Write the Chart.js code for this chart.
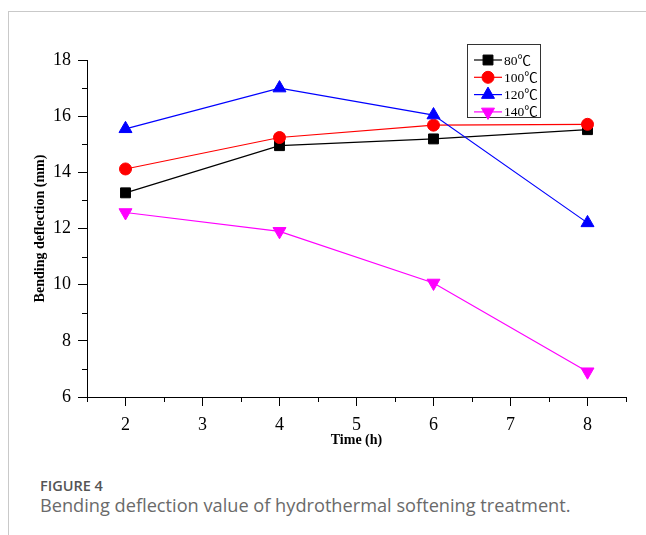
<!DOCTYPE html>
<html>
<head>
<meta charset="utf-8">
<script src="https://cdn.jsdelivr.net/npm/chart.js@4.4.0/dist/chart.umd.min.js"></script>
<style>
  body { margin: 0; background: #fff; width: 646px; height: 535px; overflow: hidden; position: relative; font-family: "Open Sans", sans-serif; }
  .frame { position: absolute; left: 8px; top: 11px; right: 0; bottom: 0; border-top: 1px solid #c9c9c9; border-left: 1px solid #c9c9c9; }
  #wrap { position: absolute; left: 0; top: 0; width: 646px; height: 460px; }
  .fig { position: absolute; left: 40px; top: 476px; font-size: 14.5px; font-weight: 600; color: #555; }
  .cap { position: absolute; left: 40px; top: 493px; font-size: 18.2px; color: #6a6a6a; }
</style>
</head>
<body>
<div class="frame"></div>
<div id="wrap"><canvas id="chart" width="646" height="460"></canvas></div>
<div class="fig">FIGURE 4</div>
<div class="cap">Bending deflection value of hydrothermal softening treatment.</div>
<script>
// treatment time (h)
const times = [2, 4, 6, 8];
// bending deflection (mm) per temperature
const temp80 = [13.27, 14.95, 15.19, 15.52];
const temp100 = [14.12, 15.24, 15.68, 15.71];
const temp120 = [15.55, 17.0, 16.04, 12.2];
const temp140 = [12.57, 11.9, 10.06, 6.9];
const seriesNames = ['80℃', '100℃', '120℃', '140℃'];

const xTicks = [2, 3, 4, 5, 6, 7, 8];
const yTicks = [6, 8, 10, 12, 14, 16, 18];
const xMinor = [1.5, 2.5, 3.5, 4.5, 5.5, 6.5, 7.5, 8.5];
const yMinor = [7, 9, 11, 13, 15, 17];

const serif = '"Liberation Serif", "Noto Sans CJK SC", serif';

function pts(vals) {
  return times.map((t, i) => ({ x: t, y: vals[i] }));
}

// small outward ticks between the labelled ones
const minorTicks = {
  id: 'minorTicks',
  afterDraw(chart) {
    const { ctx, chartArea: a, scales: { x, y } } = chart;
    ctx.save();
    ctx.strokeStyle = '#000';
    ctx.lineWidth = 1;
    ctx.beginPath();
    xMinor.forEach(v => {
      const px = Math.round(x.getPixelForValue(v)) + 0.5;
      ctx.moveTo(px, a.bottom);
      ctx.lineTo(px, a.bottom + 5);
    });
    yMinor.forEach(v => {
      const py = Math.round(y.getPixelForValue(v)) + 0.5;
      ctx.moveTo(a.left, py);
      ctx.lineTo(a.left - 5, py);
    });
    ctx.stroke();
    ctx.restore();
  }
};

// boxed legend inside the plot, top right
const boxLegend = {
  id: 'boxLegend',
  afterDraw(chart) {
    const ctx = chart.ctx;
    const left = 467, top = 44, w = 73, h = 73;
    ctx.save();
    ctx.strokeStyle = '#333';
    ctx.lineWidth = 1;
    ctx.strokeRect(left + 0.5, top + 0.5, w, h);
    ctx.font = '13.5px ' + serif;
    ctx.textBaseline = 'middle';
    chart.data.datasets.forEach((ds, i) => {
      const cy = top + 16 + i * 17.3;
      ctx.strokeStyle = ds.borderColor;
      ctx.lineWidth = 1.2;
      ctx.beginPath();
      ctx.moveTo(left + 7, cy);
      ctx.lineTo(left + 35, cy);
      ctx.stroke();
      ctx.fillStyle = ds.backgroundColor;
      ctx.strokeStyle = ds.borderColor;
      ctx.lineWidth = 1;
      Chart.helpers.drawPoint(ctx, {
        pointStyle: ds.pointStyle,
        rotation: ds.pointRotation || 0,
        radius: ds.pointRadius,
        borderWidth: 1
      }, left + 21, cy);
      ctx.fillStyle = '#000';
      ctx.fillText(ds.label, left + 37, cy + 1);
    });
    ctx.restore();
  }
};

function line(label, vals, color, style, radius, rotation) {
  return {
    label: label,
    data: pts(vals),
    borderColor: color,
    backgroundColor: color,
    borderWidth: 1.2,
    pointStyle: style,
    pointRadius: radius,
    pointRotation: rotation,
    pointBorderWidth: 1,
    pointBackgroundColor: color,
    pointBorderColor: color
  };
}

const ds80 = line(seriesNames[0], temp80, '#000000', 'rect', 7, 0);
const ds100 = line(seriesNames[1], temp100, '#ff0000', 'circle', 6, 0);
const ds120 = line(seriesNames[2], temp120, '#0000ff', 'triangle', 7.5, 0);
const ds140 = line(seriesNames[3], temp140, '#ff00ff', 'triangle', 7.5, 180);
ds80.order = 4; ds100.order = 3; ds120.order = 2; ds140.order = 1;

new Chart(document.getElementById('chart'), {
  type: 'line',
  data: { datasets: [ds80, ds100, ds120, ds140] },
  plugins: [minorTicks, boxLegend],
  options: {
    responsive: false,
    animation: false,
    devicePixelRatio: 1,
    layout: { padding: { left: 32, top: 60, right: 20, bottom: 11 } },
    plugins: { legend: { display: false }, tooltip: { enabled: false } },
    scales: {
      x: {
        type: 'linear',
        min: 1.5,
        max: 8.5,
        afterBuildTicks: s => { s.ticks = xTicks.map(v => ({ value: v })); },
        afterFit: s => { s.height = 52; },
        ticks: { color: '#000', font: { family: serif, size: 18 }, padding: 8, maxRotation: 0, autoSkip: false },
        grid: { drawOnChartArea: false, drawTicks: true, tickLength: 9, color: '#000', lineWidth: 1 },
        border: { color: '#000', width: 1 },
        title: { display: true, text: 'Time (h)', color: '#000', font: { family: serif, size: 14, weight: 'bold' }, padding: 0 }
      },
      y: {
        min: 6,
        max: 18,
        afterBuildTicks: s => { s.ticks = yTicks.map(v => ({ value: v })); },
        afterFit: s => { s.width = 55; },
        ticks: { color: '#000', font: { family: serif, size: 18 }, padding: 7 },
        grid: { drawOnChartArea: false, drawTicks: true, tickLength: 9, color: '#000', lineWidth: 1 },
        border: { color: '#000', width: 1 },
        title: { display: true, text: 'Bending deflection (mm)', color: '#000', font: { family: serif, size: 14, weight: 'bold' }, padding: 0 }
      }
    }
  }
});
</script>
</body>
</html>
